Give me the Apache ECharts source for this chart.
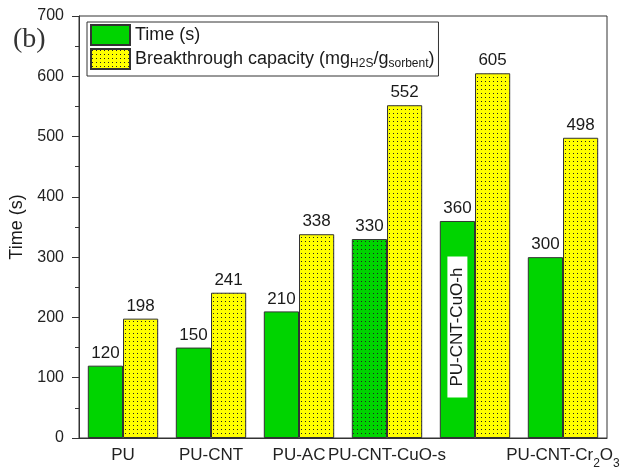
<!DOCTYPE html>
<html>
<head>
<meta charset="utf-8">
<script src="https://cdn.jsdelivr.net/npm/echarts@6/dist/echarts.min.js"></script>
<style>
  html, body { margin: 0; padding: 0; background: #fff; }
  #chart { width: 626px; height: 473px; }
</style>
</head>
<body>
<div id="chart"></div>
<script>
// ---- data ----
var categories = ['PU', 'PU-CNT', 'PU-AC', 'PU-CNT-CuO-s', 'PU-CNT-CuO-h', 'PU-CNT-Cr2O3'];
var timeValues = [120, 150, 210, 330, 360, 300];
var capacityValues = [198, 241, 338, 552, 605, 498];
var yTicks = [0, 100, 200, 300, 400, 500, 600, 700];
// the CuO-h name sits rotated inside the plot instead of under the axis
var insideLabelIndex = 4;
var insideLabelValue = 184;
// the CuO-s time bar is dotted like the capacity bars
var dottedTimeIndex = 3;

function dotPattern(bg) {
    var c = document.createElement('canvas');
    c.width = 4; c.height = 4;
    var ctx = c.getContext('2d');
    ctx.fillStyle = bg;
    ctx.fillRect(0, 0, 4, 4);
    ctx.fillStyle = '#222';
    ctx.fillRect(1, 1, 1, 1);
    return { image: c, repeat: 'repeat' };
}

var green = '#00d400';
var yellowDots = dotPattern('#ffff00');
var greenDots = dotPattern(green);

var chart = echarts.init(document.getElementById('chart'));

var option = {
    animation: false,
    backgroundColor: '#fff',
    textStyle: { fontFamily: 'Liberation Sans, Arial, sans-serif' },
    grid: {
        left: 79, right: 19, top: 16, bottom: 35,
        show: true, borderColor: '#333', borderWidth: 1, backgroundColor: 'transparent'
    },
    graphic: [{
        type: 'text', left: 13, top: 26,
        style: { text: '(b)', font: '28px "Liberation Serif", serif', fill: '#333' }
    }],
    legend: {
        orient: 'vertical',
        left: 87, top: 22,
        itemWidth: 39, itemHeight: 20, itemGap: 2,
        icon: 'rect',
        padding: [2, 4, 6, 3],
        borderColor: '#333', borderWidth: 1,
        backgroundColor: '#fff',
        textStyle: {
            fontSize: 18, color: '#1a1a1a',
            rich: {
                sub: { fontSize: 12, verticalAlign: 'bottom', padding: [9, 0, 0, 0], color: '#1a1a1a' }
            }
        },
        formatter: function (name) {
            if (name === 'cap') return 'Breakthrough capacity (mg{sub|H2S}/g{sub|sorbent})';
            return name;
        },
        data: ['Time (s)', 'cap']
    },
    xAxis: [{
        type: 'category',
        position: 'bottom',
        data: categories,
        axisLine: { lineStyle: { color: '#333', width: 1 } },
        axisTick: { alignWithLabel: true, length: 7, lineStyle: { color: '#333' } },
        axisLabel: {
            interval: 0,
            hideOverlap: false,
            verticalAlign: 'top',
            fontSize: 17, color: '#222', margin: 9,
            rich: {
                m: { fontSize: 17, color: '#222', verticalAlign: 'top' },
                sub: { fontSize: 12, color: '#222', verticalAlign: 'bottom', padding: [11, 0, 0, 0] }
            },
            formatter: function (v, i) {
                if (i === insideLabelIndex) return '';
                if (v === 'PU-CNT-Cr2O3') return '{m|PU-CNT-Cr}{sub|2}{m|O}{sub|3}';
                return v;
            }
        }
    }, {
        type: 'category',
        position: 'bottom',
        data: categories,
        axisLine: { show: false },
        axisTick: { length: 4, lineStyle: { color: '#333' } },
        axisLabel: { show: false }
    }],
    yAxis: {
        type: 'value',
        min: yTicks[0], max: yTicks[yTicks.length - 1], interval: 100,
        name: 'Time (s)',
        nameLocation: 'middle',
        nameGap: 50,
        nameTextStyle: { fontSize: 18, color: '#1a1a1a' },
        axisLine: { show: true, lineStyle: { color: '#333', width: 1 } },
        axisTick: { show: true, length: 7, lineStyle: { color: '#333' } },
        minorTick: { show: true, splitNumber: 2, length: 4, lineStyle: { color: '#333' } },
        splitLine: { show: false },
        axisLabel: { fontSize: 16, color: '#222', margin: 15 }
    },
    series: [{
        name: 'Time (s)',
        type: 'bar',
        barGap: 0,
        barCategoryGap: '20%',
        data: timeValues.map(function (v, i) {
            return i === dottedTimeIndex ? { value: v, itemStyle: { color: greenDots } } : v;
        }),
        itemStyle: { color: green, borderColor: '#333', borderWidth: 1 },
        label: { show: true, position: 'top', distance: 4, fontSize: 17, color: '#1a1a1a' },
        markPoint: {
            symbol: 'rect', symbolSize: 1,
            itemStyle: { color: 'transparent' },
            label: {
                show: true, position: 'inside', rotate: 90,
                formatter: '{b}',
                backgroundColor: '#fff', padding: [2, 11, 1, 11],
                fontSize: 17, color: '#1a1a1a'
            },
            data: [{
                name: categories[insideLabelIndex],
                coord: [categories[insideLabelIndex], insideLabelValue]
            }]
        }
    }, {
        name: 'cap',
        type: 'bar',
        data: capacityValues,
        itemStyle: { color: yellowDots, borderColor: '#333', borderWidth: 1 },
        label: { show: true, position: 'top', distance: 4, fontSize: 17, color: '#1a1a1a' }
    }]
};

chart.setOption(option);
</script>
</body>
</html>
